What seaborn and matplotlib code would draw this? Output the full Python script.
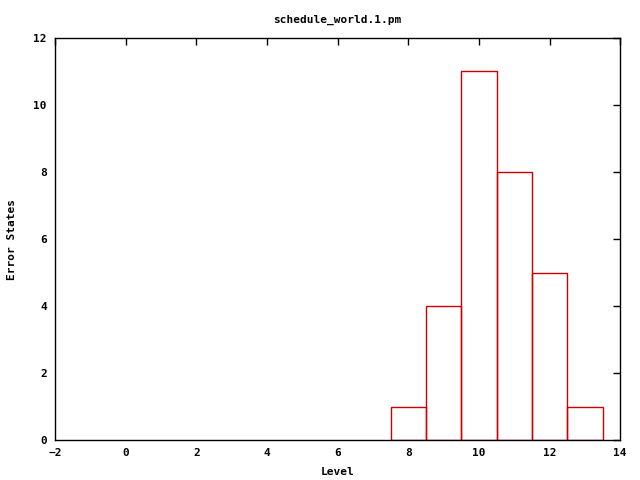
import matplotlib
matplotlib.use("Agg")
import seaborn as sns
import matplotlib.pyplot as plt

levels = [8, 9, 10, 11, 12, 13]
error_states = [1, 4, 11, 8, 5, 1]
xticks = [-2, 0, 2, 4, 6, 8, 10, 12, 14]
yticks = [0, 2, 4, 6, 8, 10, 12]

sns.set_style("white")
plt.rcParams['font.family'] = ['DejaVu Sans Mono']
plt.rcParams['font.weight'] = 'bold'
plt.rcParams['text.color'] = 'black'
plt.rcParams['axes.labelcolor'] = 'black'

fig = plt.figure(figsize=(6.4, 4.8), dpi=100)
ax = fig.add_axes([0.086, 0.083, 0.883, 0.838])

sns.histplot(x=levels, weights=error_states, discrete=True, fill=False,
             color="#cc0000", linewidth=1.0, ax=ax)

ax.set_xlim(-2, 14)
ax.set_ylim(0, 12)
ax.set_xticks(xticks)
ax.set_yticks(yticks)
ax.tick_params(direction='in', length=5, width=1, top=True, right=True,
               labelsize=8, colors='black', pad=6)
for s in ax.spines.values():
    s.set_visible(True)
    s.set_color('black')
    s.set_linewidth(1)
ax.set_xlabel("Level", fontsize=8, fontweight='bold', color='black', labelpad=6)
ax.set_ylabel("Error States", fontsize=8, fontweight='bold', color='black', labelpad=12)
ax.set_title("schedule_world.1.pm", fontsize=8, fontweight='bold', color='black', pad=11)

fig.savefig("out.png", dpi=100)
